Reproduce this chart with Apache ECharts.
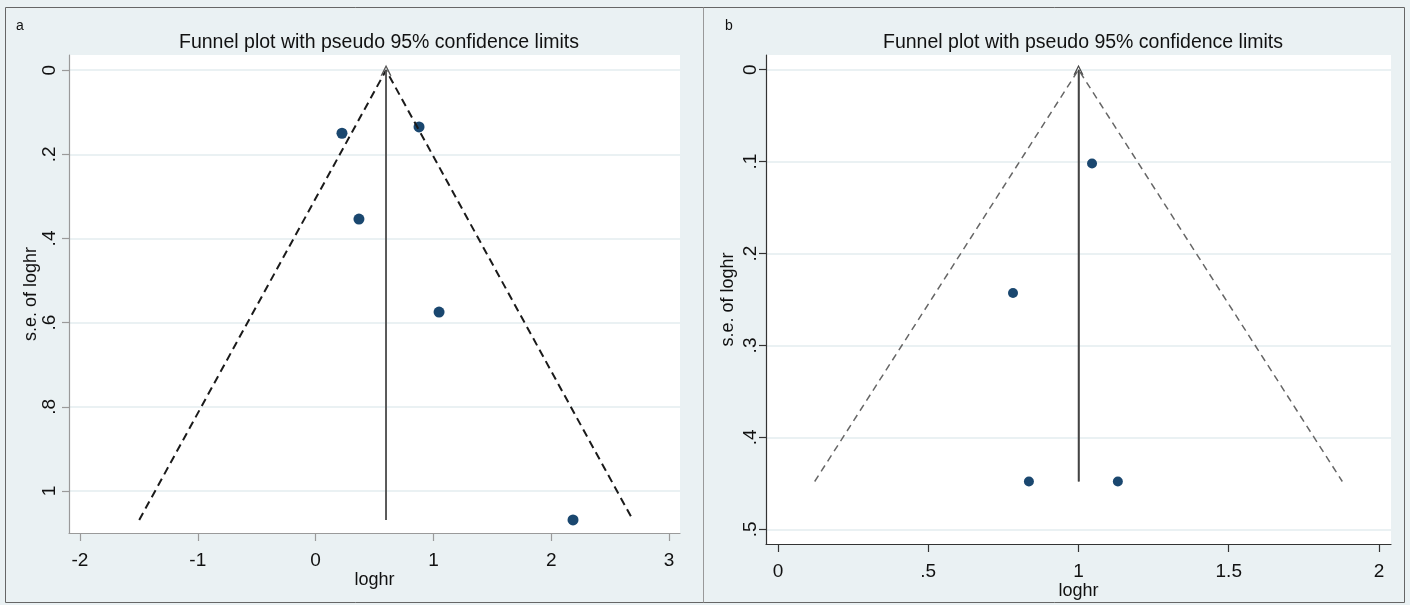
<!DOCTYPE html>
<html>
<head>
<meta charset="utf-8">
<script src="https://cdn.jsdelivr.net/npm/echarts@6/dist/echarts.min.js"></script>
<style>
html,body{margin:0;padding:0;background:#eaf1f3;}
#chart{width:1410px;height:605px;}
</style>
</head>
<body>
<div id="chart"></div>
<script>
// ---------- data ----------
var titleText = 'Funnel plot with pseudo 95% confidence limits';
var panelLetters = ['a', 'b'];
var xName = 'loghr';
var yName = 's.e. of loghr';

// panel a
var pointsA = [[0.224, 0.150], [0.878, 0.135], [0.368, 0.354], [1.048, 0.575], [2.185, 1.069]];
var funnelA = [[-1.497, 1.069], [0.598, 0], [2.693, 1.069]];
var centerA = [[0.598, 1.069], [0.598, 0]];
var xTicksA = [-2, -1, 0, 1, 2, 3];
var xTickLabelsA = ['-2', '-1', '0', '1', '2', '3'];
var yTicksA = [0, 0.2, 0.4, 0.6, 0.8, 1];
var yTickLabelsA = ['0', '.2', '.4', '.6', '.8', '1'];
var xRangeA = [-2.093, 3.093];
var yRangeA = [-0.036, 1.10];

// panel b
var pointsB = [[1.045, 0.102], [0.782, 0.243], [0.835, 0.448], [1.131, 0.448]];
var funnelB = [[0.122, 0.448], [1.0, 0], [1.878, 0.448]];
var centerB = [[1.0, 0.448], [1.0, 0]];
var xTicksB = [0, 0.5, 1, 1.5, 2];
var xTickLabelsB = ['0', '.5', '1', '1.5', '2'];
var yTicksB = [0, 0.1, 0.2, 0.3, 0.4, 0.5];
var yTickLabelsB = ['0', '.1', '.2', '.3', '.4', '.5'];
var xRangeB = [-0.04, 2.04];
var yRangeB = [-0.016, 0.516];

// ---------- chart ----------
var FONT = '"Liberation Sans", Arial, sans-serif';
function fmt(ticks, labels) {
  return function (v) {
    for (var i = 0; i < ticks.length; i++) {
      if (Math.abs(ticks[i] - v) < 1e-6) return labels[i];
    }
    return '';
  };
}
var chevron = 'path://M0,10 L5,0 L10,10 L8.6,10 L5,2.6 L1.4,10 Z';

function xAxis(idx, range, ticks, labels, axisColor, gap) {
  return {
    type: 'value', gridIndex: idx, min: range[0], max: range[1],
    name: xName, nameLocation: 'middle', nameGap: gap, nameMoveOverlap: false,
    nameTextStyle: {fontFamily: FONT, fontSize: 18, color: '#111'},
    axisLine: {show: true, onZero: false, lineStyle: {color: axisColor, width: 1.2}},
    axisTick: {show: true, length: 8, customValues: ticks, lineStyle: {color: axisColor, width: 1.2}},
    axisLabel: {customValues: ticks, formatter: fmt(ticks, labels), margin: 18,
      fontFamily: FONT, fontSize: 19, color: '#111'},
    splitLine: {show: false}
  };
}
function yAxis(idx, range, ticks, labels, axisColor, margin, gap) {
  return {
    type: 'value', gridIndex: idx, inverse: true, min: range[0], max: range[1],
    name: yName, nameLocation: 'middle', nameGap: gap, nameRotate: 90, nameMoveOverlap: false,
    nameTextStyle: {fontFamily: FONT, fontSize: 18, color: '#111'},
    axisLine: {show: true, onZero: false, lineStyle: {color: axisColor, width: 1.2}},
    axisTick: {show: true, length: 7, customValues: ticks, lineStyle: {color: axisColor, width: 1.2}},
    axisLabel: {customValues: ticks, formatter: fmt(ticks, labels), rotate: 90, margin: margin,
      fontFamily: FONT, fontSize: 19, color: '#111'},
    splitLine: {show: true, lineStyle: {color: '#e3ecef', width: 1.5}}
  };
}

var option = {
  backgroundColor: '#eaf1f3',
  animation: false,
  title: [
    {text: titleText, left: 374, top: 28, textAlign: 'center',
      textStyle: {fontFamily: FONT, fontSize: 19.5, fontWeight: 'normal', color: '#111'}},
    {text: titleText, left: 1078, top: 28, textAlign: 'center',
      textStyle: {fontFamily: FONT, fontSize: 19.5, fontWeight: 'normal', color: '#111'}},
    {text: panelLetters[0], left: 11, top: 14,
      textStyle: {fontFamily: FONT, fontSize: 14, fontWeight: 'normal', color: '#111'}},
    {text: panelLetters[1], left: 720, top: 14,
      textStyle: {fontFamily: FONT, fontSize: 14, fontWeight: 'normal', color: '#111'}}
  ],
  graphic: [
    {type: 'rect', shape: {x: 5.5, y: 7.5, width: 1399, height: 595}, silent: true,
      style: {fill: 'none', stroke: '#666', lineWidth: 1}},
    {type: 'line', shape: {x1: 703.5, y1: 7.5, x2: 703.5, y2: 602.5}, silent: true,
      style: {stroke: '#999', lineWidth: 1}}
  ],
  grid: [
    {left: 69, top: 55, width: 611, height: 478, show: true, backgroundColor: '#ffffff', borderWidth: 0,
      outerBoundsMode: 'none', containLabel: false},
    {left: 766, top: 55, width: 625, height: 489, show: true, backgroundColor: '#ffffff', borderWidth: 0,
      outerBoundsMode: 'none', containLabel: false}
  ],
  xAxis: [
    xAxis(0, xRangeA, xTicksA, xTickLabelsA, '#9a9a9a', 38),
    xAxis(1, xRangeB, xTicksB, xTickLabelsB, '#333333', 38)
  ],
  yAxis: [
    yAxis(0, yRangeA, yTicksA, yTickLabelsA, '#9a9a9a', 10, 29),
    yAxis(1, yRangeB, yTicksB, yTickLabelsB, '#333333', 6, 29)
  ],
  series: [
    {type: 'line', xAxisIndex: 0, yAxisIndex: 0, data: funnelA, symbol: 'none', silent: true,
      lineStyle: {color: '#1a1a1a', width: 2, type: [8, 5]}},
    {type: 'line', xAxisIndex: 0, yAxisIndex: 0, data: centerA, symbol: 'none', silent: true,
      lineStyle: {color: '#555', width: 1.6}},
    {type: 'scatter', xAxisIndex: 0, yAxisIndex: 0, data: pointsA, symbolSize: 11, silent: true,
      itemStyle: {color: '#1a476f', opacity: 1},
      markLine: {silent: true, symbol: ['none', chevron], symbolSize: [11, 11],
        label: {show: false}, lineStyle: {color: '#555', width: 1.6, type: 'solid'},
        data: [[{coord: centerA[0]}, {coord: centerA[1]}]]}},
    {type: 'line', xAxisIndex: 1, yAxisIndex: 1, data: funnelB, symbol: 'none', silent: true,
      lineStyle: {color: '#666', width: 1.5, type: [7, 5]}},
    {type: 'line', xAxisIndex: 1, yAxisIndex: 1, data: centerB, symbol: 'none', silent: true,
      lineStyle: {color: '#444', width: 1.5}},
    {type: 'scatter', xAxisIndex: 1, yAxisIndex: 1, data: pointsB, symbolSize: 10, silent: true,
      itemStyle: {color: '#1a476f', opacity: 1},
      markLine: {silent: true, symbol: ['none', chevron], symbolSize: [10, 10],
        label: {show: false}, lineStyle: {color: '#444', width: 1.5, type: 'solid'},
        data: [[{coord: centerB[0]}, {coord: centerB[1]}]]}}
  ]
};
var chart = echarts.init(document.getElementById('chart'), null, {renderer: 'canvas'});
chart.setOption(option);
</script>
</body>
</html>
